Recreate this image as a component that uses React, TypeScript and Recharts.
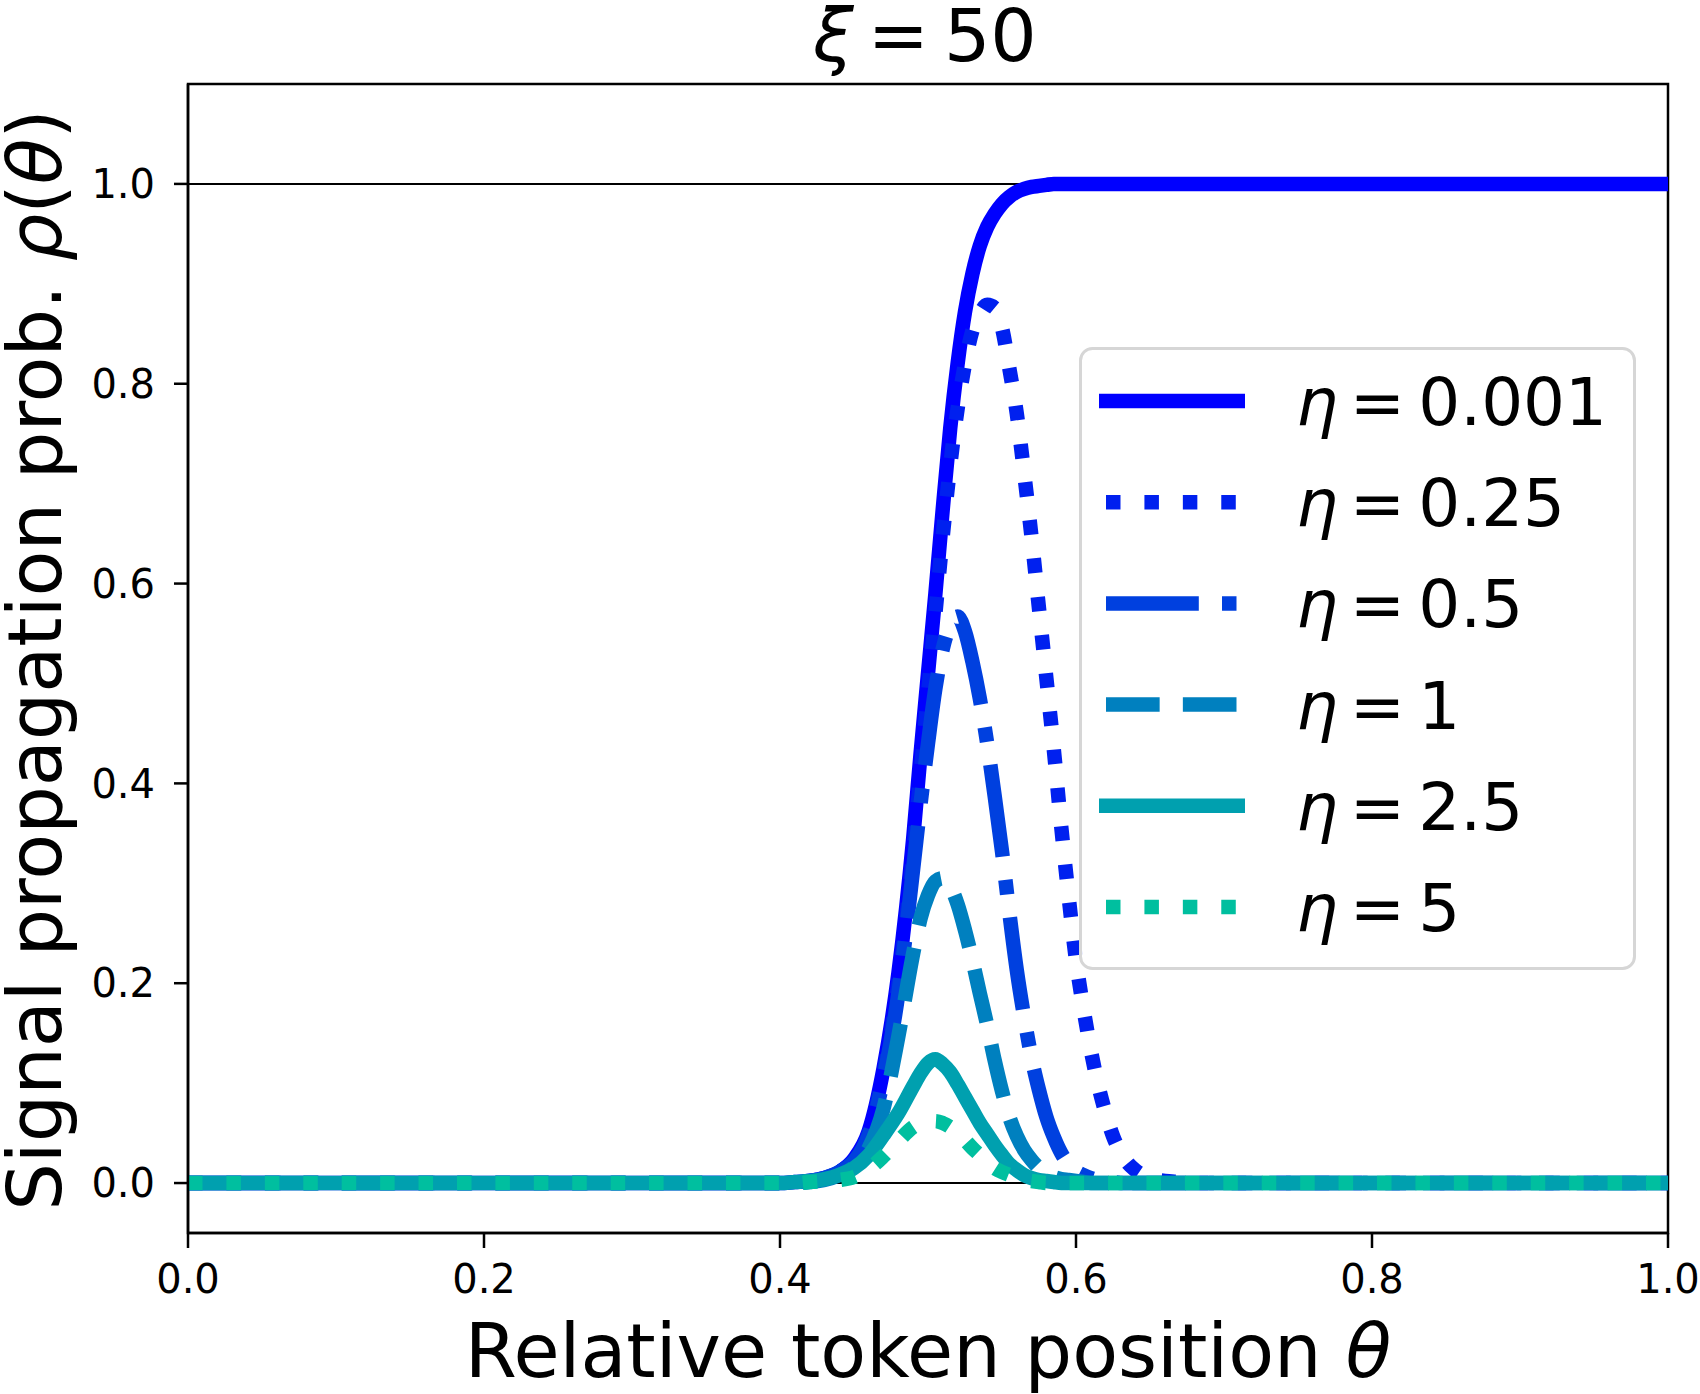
import React from 'react';
import { LineChart, Line, XAxis, YAxis, ReferenceLine, ReferenceArea } from 'recharts';

// Relative token position θ
const THETA = [
  0, 0.1, 0.2, 0.3, 0.4,
  0.41, 0.42, 0.43, 0.44, 0.45, 0.46, 0.47, 0.48, 0.49,
  0.495, 0.5, 0.505, 0.51, 0.515, 0.52, 0.525, 0.53,
  0.535, 0.54, 0.545, 0.55, 0.555, 0.56, 0.565, 0.57,
  0.575, 0.58, 0.585, 0.59, 0.595, 0.6, 0.605, 0.61,
  0.615, 0.62, 0.625, 0.63, 0.635, 0.64, 0.645, 0.65,
  0.66, 0.67, 0.68, 0.7, 0.8, 0.9, 1.0,
];

const RHO_ETA_0001 = [
  0, 0, 0, 0, 0,
  0.001, 0.002, 0.005, 0.011, 0.024, 0.052, 0.115, 0.21, 0.345,
  0.43, 0.51, 0.59, 0.675, 0.755, 0.82, 0.872, 0.91,
  0.938, 0.957, 0.97, 0.98, 0.987, 0.992, 0.995, 0.997,
  0.998, 0.999, 1, 1, 1, 1, 1, 1,
  1, 1, 1, 1, 1, 1, 1, 1,
  1, 1, 1, 1, 1, 1, 1,
];

const RHO_ETA_025 = [
  0, 0, 0, 0, 0,
  0.001, 0.002, 0.005, 0.011, 0.023, 0.05, 0.11, 0.2, 0.33,
  0.41, 0.49, 0.57, 0.648, 0.718, 0.775, 0.82, 0.853,
  0.87, 0.879, 0.876, 0.856, 0.815, 0.77, 0.71, 0.646,
  0.575, 0.505, 0.434, 0.357, 0.287, 0.223, 0.175, 0.133,
  0.098, 0.07, 0.047, 0.031, 0.02, 0.013, 0.008, 0.005,
  0.002, 0.001, 0, 0, 0, 0, 0,
];

const RHO_ETA_05 = [
  0, 0, 0, 0, 0,
  0.001, 0.002, 0.005, 0.011, 0.022, 0.048, 0.105, 0.19, 0.315,
  0.38, 0.44, 0.495, 0.535, 0.558, 0.567, 0.552, 0.522,
  0.485, 0.44, 0.388, 0.332, 0.27, 0.213, 0.166, 0.125,
  0.093, 0.066, 0.046, 0.03, 0.019, 0.012, 0.008, 0.005,
  0.003, 0.002, 0.001, 0, 0, 0, 0, 0,
  0, 0, 0, 0, 0, 0, 0,
];

const RHO_ETA_1 = [
  0, 0, 0, 0, 0,
  0, 0.001, 0.003, 0.008, 0.016, 0.035, 0.075, 0.147, 0.23,
  0.265, 0.288, 0.302, 0.305, 0.297, 0.279, 0.253, 0.223,
  0.19, 0.158, 0.123, 0.092, 0.066, 0.047, 0.033, 0.023,
  0.015, 0.01, 0.006, 0.004, 0.003, 0.002, 0.001, 0,
  0, 0, 0, 0, 0, 0, 0, 0,
  0, 0, 0, 0, 0, 0, 0,
];

const RHO_ETA_25 = [
  0, 0, 0, 0, 0,
  0.001, 0.002, 0.004, 0.008, 0.015, 0.028, 0.048, 0.07, 0.097,
  0.11, 0.12, 0.124, 0.119, 0.111, 0.099, 0.086, 0.073,
  0.06, 0.049, 0.038, 0.028, 0.019, 0.013, 0.008, 0.005,
  0.003, 0.002, 0.001, 0, 0, 0, 0, 0,
  0, 0, 0, 0, 0, 0, 0, 0,
  0, 0, 0, 0, 0, 0, 0,
];

const RHO_ETA_5 = [
  0, 0, 0, 0, 0,
  0, 0.001, 0.002, 0.003, 0.006, 0.014, 0.027, 0.042, 0.056,
  0.06, 0.062, 0.062, 0.06, 0.056, 0.05, 0.043, 0.035,
  0.028, 0.021, 0.015, 0.011, 0.008, 0.005, 0.003, 0.002,
  0.001, 0, 0, 0, 0, 0, 0, 0,
  0, 0, 0, 0, 0, 0, 0, 0,
  0, 0, 0, 0, 0, 0, 0,
];

const X_TICKS = [0, 0.2, 0.4, 0.6, 0.8, 1.0];
const Y_TICKS = [0, 0.2, 0.4, 0.6, 0.8, 1.0];
const ETA_LABELS = ['0.001', '0.25', '0.5', '1', '2.5', '5'];

const LW = 14.5;
const DOTTED = `${LW} ${LW * 1.65}`;
const DASHDOT = `${LW * 6.4} ${LW * 1.6} ${LW} ${LW * 1.6}`;
const DASHED = `${LW * 3.7} ${LW * 1.6}`;

const SERIES = [
  { key: 'e0', label: ETA_LABELS[0], color: '#0000ff', dash: undefined as string | undefined, values: RHO_ETA_0001 },
  { key: 'e1', label: ETA_LABELS[1], color: '#0020ef', dash: DOTTED, values: RHO_ETA_025 },
  { key: 'e2', label: ETA_LABELS[2], color: '#0040df', dash: DASHDOT, values: RHO_ETA_05 },
  { key: 'e3', label: ETA_LABELS[3], color: '#0080bf', dash: DASHED, values: RHO_ETA_1 },
  { key: 'e4', label: ETA_LABELS[4], color: '#00a0af', dash: undefined as string | undefined, values: RHO_ETA_25 },
  { key: 'e5', label: ETA_LABELS[5], color: '#00bf9f', dash: DOTTED, values: RHO_ETA_5 },
];

const FONT = 'DejaVu Sans';

export default function App() {
  const data = THETA.map((t, i) => {
    const row: Record<string, number> = { theta: t };
    SERIES.forEach((s) => {
      row[s.key] = s.values[i];
    });
    return row;
  });

  const tickStyle = { fontSize: 40, fill: '#000', fontFamily: FONT };

  return (
    <div style={{ position: 'absolute', left: 0, top: 0, width: 1700, height: 1394, background: '#fff' }}>
      <LineChart width={1700} height={1394} data={data} margin={{ top: 84, right: 32, bottom: 61, left: 68 }}>
        <XAxis
          dataKey="theta"
          type="number"
          domain={[0, 1]}
          ticks={X_TICKS}
          tickFormatter={(v: number) => v.toFixed(1)}
          height={100}
          tickSize={15}
          tickMargin={17}
          tick={tickStyle}
          axisLine={{ stroke: '#000', strokeWidth: 2.5 }}
          tickLine={{ stroke: '#000', strokeWidth: 2.5 }}
          interval={0}
        />
        <YAxis
          type="number"
          domain={[-0.05, 1.1]}
          ticks={Y_TICKS}
          tickFormatter={(v: number) => v.toFixed(1)}
          width={120}
          tickSize={14}
          tickMargin={19}
          tick={tickStyle}
          axisLine={{ stroke: '#000', strokeWidth: 2.5 }}
          tickLine={{ stroke: '#000', strokeWidth: 2.5 }}
          interval={0}
        />
        <ReferenceLine y={0} stroke="#000" strokeWidth={2} />
        <ReferenceLine y={1} stroke="#000" strokeWidth={2} />
        {SERIES.map((s) => (
          <Line
            key={s.key}
            dataKey={s.key}
            type="monotone"
            stroke={s.color}
            strokeWidth={LW}
            strokeDasharray={s.dash}
            strokeLinejoin="round"
            dot={false}
            activeDot={false}
            isAnimationActive={false}
          />
        ))}
        <ReferenceArea x1={0} x2={1} y1={-0.05} y2={1.1} fill="none" fillOpacity={0} stroke="#000" strokeWidth={2.5} ifOverflow="visible" />
      </LineChart>
      <svg
        width={1700}
        height={1394}
        style={{ position: 'absolute', left: 0, top: 0, pointerEvents: 'none' }}
        fontFamily={FONT}
      >
        <text x={813} y={61} fontSize={73} fill="#000">
          <tspan fontStyle="italic">ξ</tspan>
          <tspan dx={14}>=</tspan>
          <tspan dx={15}>50</tspan>
        </text>
        <text x={928} y={1377} fontSize={75} textAnchor="middle" fill="#000" style={{ whiteSpace: 'pre' }}>
          <tspan>{'Relative token position '}</tspan>
          <tspan fontStyle="italic">θ</tspan>
        </text>
        <text
          x={0}
          y={0}
          transform="translate(61,660) rotate(-90)"
          fontSize={75}
          textAnchor="middle"
          fill="#000"
          style={{ whiteSpace: 'pre' }}
        >
          <tspan>{'Signal propagation prob. '}</tspan>
          <tspan fontStyle="italic">ρ</tspan>
          <tspan>(</tspan>
          <tspan fontStyle="italic">θ</tspan>
          <tspan>)</tspan>
        </text>
        <g transform="translate(1079,347)">
          <rect x={1.5} y={1.5} width={554} height={620} rx={12} ry={12} fill="#fff" fillOpacity={0.8} stroke="#d6d6d6" strokeWidth={3} />
          {SERIES.map((s, i) => {
            const cy = 54 + i * 101.2;
            return (
              <g key={s.key}>
                <line
                  x1={s.dash ? 27 : 20}
                  x2={s.dash ? 158 : 166}
                  y1={cy}
                  y2={cy}
                  stroke={s.color}
                  strokeWidth={LW}
                  strokeDasharray={s.dash}
                />
                <text x={217} y={cy + 24} fontSize={66} fill="#000">
                  <tspan fontStyle="italic">η</tspan>
                  <tspan dx={12}>=</tspan>
                  <tspan dx={13}>{s.label}</tspan>
                </text>
              </g>
            );
          })}
        </g>
      </svg>
    </div>
  );
}
